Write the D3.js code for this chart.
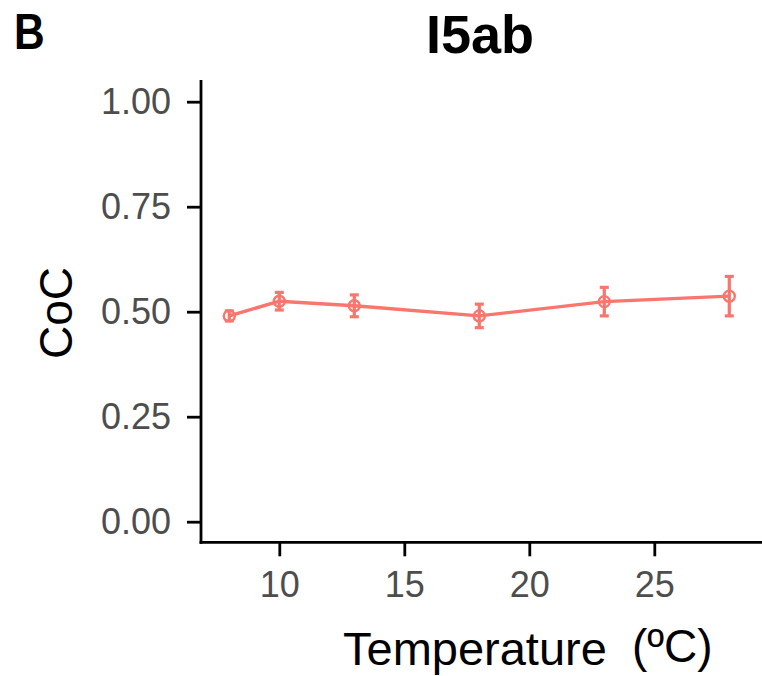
<!DOCTYPE html>
<html><head><meta charset="utf-8">
<script src="https://cdn.jsdelivr.net/npm/d3@7"></script>
<style>body{margin:0;background:#fff}</style>
</head><body>
<script>
const temperatures = [8, 10, 13, 18, 23, 28];
const cocValues    = [0.490, 0.525, 0.514, 0.490, 0.524, 0.537];
const cocErrors    = [0.012, 0.021, 0.026, 0.028, 0.034, 0.047];
const xTicks = [10, 15, 20, 25];
const yTicks = [0, 0.25, 0.5, 0.75, 1.0];
const title = "I5ab", panelLetter = "B";

const W = 762, H = 676;
const svg = d3.select("body").append("svg").attr("width", W).attr("height", H);
const col = "#F8766D";
const x = d3.scaleLinear().domain([10, 25]).range([279.3, 654.3]);
const y = d3.scaleLinear().domain([0, 1]).range([521.7, 101.7]);
const font = "'Liberation Sans', Arial, sans-serif";

// axes
const yAx = svg.append("g").attr("transform", "translate(201,0)")
  .call(d3.axisLeft(y).tickValues(yTicks).tickFormat(d3.format(".2f")).tickSize(14).tickPadding(16));
const xAx = svg.append("g").attr("transform", "translate(0,542.3)")
  .call(d3.axisBottom(x).tickValues(xTicks).tickSize(14).tickPadding(15));
[yAx, xAx].forEach(g => {
  g.select(".domain").remove();
  g.selectAll(".tick line").attr("stroke", "#000").attr("stroke-width", 2.8);
  g.selectAll(".tick text").attr("fill", "#4d4d4d").style("font-family", font).style("font-size", "36px");
});
svg.append("line").attr("x1", 201).attr("x2", 201).attr("y1", 80).attr("y2", 543.7)
  .attr("stroke", "#000").attr("stroke-width", 2.8);
svg.append("line").attr("x1", 199.6).attr("x2", W).attr("y1", 542.3).attr("y2", 542.3)
  .attr("stroke", "#000").attr("stroke-width", 2.8);

const data = temperatures.map((t, i) => ({t, v: cocValues[i], e: cocErrors[i]}));
const g = svg.append("g");
// error bars
data.forEach(d => {
  g.append("line").attr("x1", x(d.t)).attr("x2", x(d.t)).attr("y1", y(d.v - d.e)).attr("y2", y(d.v + d.e))
    .attr("stroke", col).attr("stroke-width", 3.2);
  [d.v - d.e, d.v + d.e].forEach(v => g.append("line")
    .attr("x1", x(d.t) - 4.5).attr("x2", x(d.t) + 4.5).attr("y1", y(v)).attr("y2", y(v))
    .attr("stroke", col).attr("stroke-width", 3.2));
});
g.append("path").datum(data)
  .attr("d", d3.line().x(d => x(d.t)).y(d => y(d.v)))
  .attr("fill", "none").attr("stroke", col).attr("stroke-width", 3.4);
g.selectAll("circle").data(data).join("circle")
  .attr("cx", d => x(d.t)).attr("cy", d => y(d.v)).attr("r", 5.5)
  .attr("fill", "none").attr("stroke", col).attr("stroke-width", 2.4);

// texts
svg.append("text").attr("x", 480).attr("y", 53).attr("text-anchor", "middle")
  .style("font-family", font).style("font-weight", "bold").style("font-size", "54px").text(title);
svg.append("text").attr("transform", "translate(14,48.5) scale(0.85,1)")
  .style("font-family", font).style("font-weight", "bold").style("font-size", "50px").text(panelLetter);
svg.append("text").attr("transform", "translate(72,313) rotate(-90)").attr("text-anchor", "middle")
  .style("font-family", font).style("font-size", "46px").text("CoC");
svg.append("text").attr("x", 343).attr("y", 665)
  .style("font-family", font).style("font-size", "47px").text("Temperature");
svg.append("text").attr("x", 632).attr("y", 662)
  .style("font-family", font).style("font-size", "46px").text("(ºC)");
</script>
</body></html>
